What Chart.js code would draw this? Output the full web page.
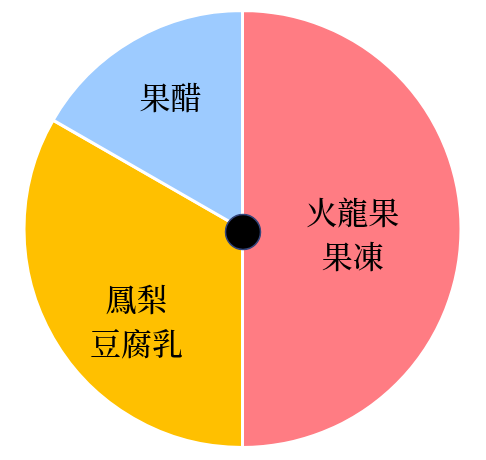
<!DOCTYPE html>
<html>
<head>
<meta charset="utf-8">
<script src="https://cdn.jsdelivr.net/npm/chart.js@4.4.1/dist/chart.umd.min.js"></script>
<style>
html,body{margin:0;padding:0;background:#fff;}
#wrap{width:486px;height:460px;}
</style>
</head>
<body>
<div id="wrap"><canvas id="c" width="486" height="460"></canvas></div>
<script>
const categories = [['火龍果','果凍'], ['鳳梨','豆腐乳'], ['果醋']];
const values = [50, 33.3, 16.7];
const colors = ['#FF7C83', '#FFC000', '#9DCBFF'];

// label placement style: distance as fraction of radius, and pixel shift
const labelDist = [0.505, 0.64, 0.685];
const labelShift = [[0, 5], [15, 22], [3, -2]];

const labelPlugin = {
  id: 'sliceLabels',
  afterDatasetsDraw(chart) {
    const ctx = chart.ctx;
    const meta = chart.getDatasetMeta(0);
    ctx.save();
    ctx.fillStyle = '#000';
    ctx.textAlign = 'center';
    ctx.textBaseline = 'middle';
    ctx.font = "500 31px 'Noto Serif CJK TC', 'Noto Sans CJK TC', sans-serif";
    meta.data.forEach((arc, i) => {
      const mid = (arc.startAngle + arc.endAngle) / 2;
      const r = arc.outerRadius * labelDist[i];
      const cx = arc.x + Math.cos(mid) * r + labelShift[i][0];
      const cy = arc.y + Math.sin(mid) * r + labelShift[i][1];
      const lines = categories[i];
      const lh = 44;
      lines.forEach((t, j) => {
        ctx.fillText(t, cx, cy + (j - (lines.length - 1) / 2) * lh);
      });
    });
    // centre dot
    const a = meta.data[0];
    ctx.beginPath();
    ctx.arc(a.x + 0.5, a.y + 3, 17.5, 0, Math.PI * 2);
    ctx.fillStyle = '#000';
    ctx.fill();
    ctx.lineWidth = 1.5;
    ctx.strokeStyle = '#34457a';
    ctx.stroke();
    ctx.restore();
  }
};

new Chart(document.getElementById('c'), {
  type: 'pie',
  data: {
    labels: categories.map(l => l.join('')),
    datasets: [{
      data: values,
      backgroundColor: colors,
      borderColor: '#ffffff',
      borderWidth: 3,
      hoverBorderWidth: 3,
      hoverOffset: 0
    }]
  },
  options: {
    responsive: false,
    animation: false,
    layout: { padding: { left: 22.5, right: 23.5, top: 9, bottom: 11 } },
    plugins: { legend: { display: false }, tooltip: { enabled: false } }
  },
  plugins: [labelPlugin]
});
</script>
</body>
</html>
